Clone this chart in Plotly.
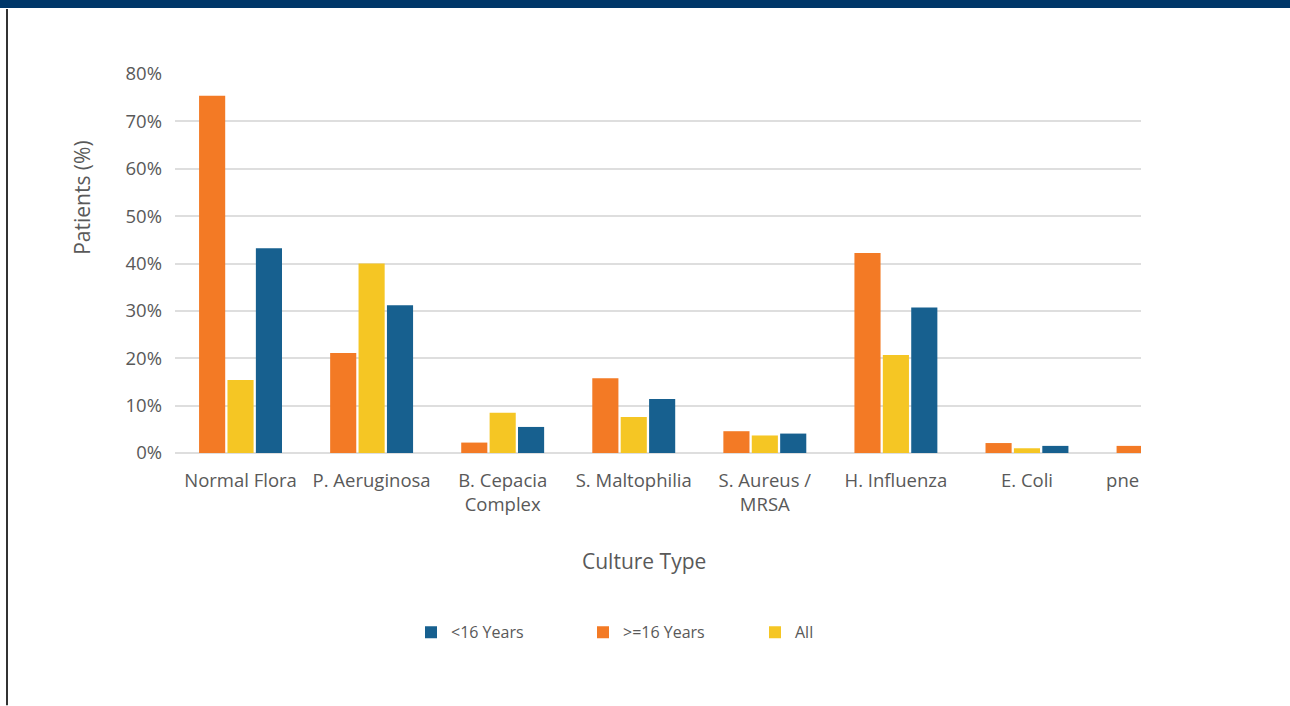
import plotly.graph_objects as go

# Culture types and share of patients (%) per age group
categories = ["Normal Flora", "P. Aeruginosa", "B. Cepacia<br>Complex", "S. Maltophilia",
              "S. Aureus /<br>MRSA", "H. Influenza", "E. Coli", "pne"]
over16 = [75.4, 21.1, 2.2, 15.8, 4.6, 42.2, 2.1, 1.5]
all_patients = [15.4, 40.0, 8.5, 7.6, 3.7, 20.7, 1.0, None]
under16 = [43.2, 31.2, 5.5, 11.4, 4.1, 30.7, 1.5, None]
y_ticks = [0, 10, 20, 30, 40, 50, 60, 70, 80]
y_tick_text = [f"{v}%" for v in y_ticks]

ORANGE = "#F37A25"
YELLOW = "#F5C624"
BLUE = "#17608F"
TEXT = "#595959"
GRID = "#DEDEDE"
FONT = "Open Sans"

# plot area in pixels (1290 x 706 page)
W, H = 1290, 706
L, R, T, B = 175, 1141, 74, 453.5


def px_x(p):
    return (p - L) / (R - L)


def px_y(p):
    return (B - p) / (B - T)


xs = list(range(len(categories)))

fig = go.Figure()
fig.add_trace(go.Bar(x=xs, y=over16, name=">=16 Years", marker_color=ORANGE,
                     legendrank=2, marker_line_width=0))
fig.add_trace(go.Bar(x=xs, y=all_patients, name="All", marker_color=YELLOW,
                     legendrank=3, marker_line_width=0))
fig.add_trace(go.Bar(x=xs, y=under16, name="<16 Years", marker_color=BLUE,
                     legendrank=1, marker_line_width=0))

# label positions along the category axis (last label sits at the clipped edge)
tick_pos = xs[:-1] + [6.73]

fig.update_layout(
    width=W, height=H,
    margin=dict(l=L, r=W - R, t=T, b=H - B),
    paper_bgcolor="white", plot_bgcolor="white",
    barmode="group", bargap=0.35, bargroupgap=0.08,
    font=dict(family=FONT, color=TEXT),
    xaxis=dict(
        range=[-0.5, 6.87], tickvals=tick_pos, ticktext=categories,
        showgrid=False, zeroline=False, showline=False, ticks="",
        ticklabelstandoff=14,
        tickfont=dict(size=18.5, color=TEXT),
    ),
    yaxis=dict(
        range=[0, 80], tickvals=y_ticks, ticktext=y_tick_text,
        showgrid=True, gridcolor=GRID, gridwidth=2,
        zeroline=True, zerolinecolor=GRID, zerolinewidth=2,
        showline=False, ticks="", ticklabelstandoff=12,
        tickfont=dict(size=18.5, color=TEXT),
    ),
    legend=dict(
        orientation="h", x=px_x(411), xanchor="left", y=px_y(633), yanchor="middle",
        font=dict(size=16, color=TEXT), entrywidth=127, entrywidthmode="pixels",
        traceorder="normal", bgcolor="rgba(0,0,0,0)",
    ),
    showlegend=True,
)

# axis titles
fig.add_annotation(
    text="Patients (%)", textangle=-90, xref="paper", yref="paper",
    x=px_x(82), y=px_y(198), showarrow=False, xanchor="center", yanchor="middle",
    font=dict(size=21, color=TEXT, family=FONT),
)
fig.add_annotation(
    text="Culture Type", xref="paper", yref="paper",
    x=px_x(644), y=px_y(562), showarrow=False, xanchor="center", yanchor="middle",
    font=dict(size=21, color=TEXT, family=FONT),
)

# page frame: top band and left rule
fig.add_shape(type="rect", xref="paper", yref="paper", x0=px_x(0), x1=px_x(W),
              y0=px_y(8), y1=px_y(0), fillcolor="#003769", line_width=0, layer="above")
fig.add_shape(type="line", xref="paper", yref="paper", x0=px_x(7), x1=px_x(7),
              y0=px_y(9), y1=px_y(H), line=dict(color="#333333", width=2))

fig.write_html("out.html")
